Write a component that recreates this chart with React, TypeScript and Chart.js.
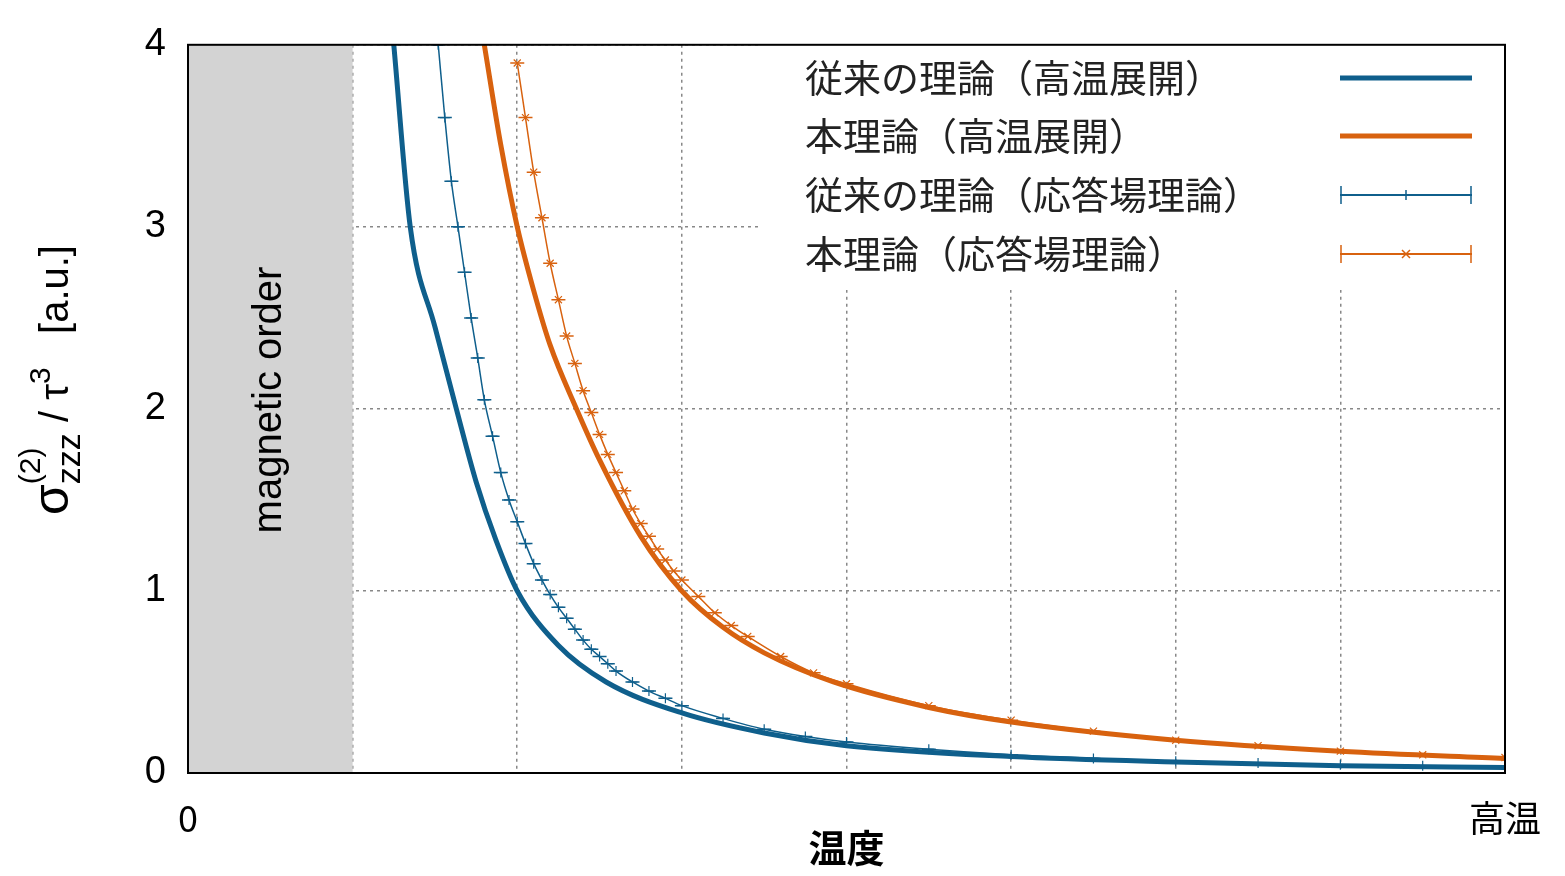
import React, { useEffect, useRef } from "react";
import { Chart, registerables } from "chart.js";
Chart.register(...registerables);

const FONT = "'Liberation Sans', 'Noto Sans CJK JP', sans-serif";
const JFONT = "'Noto Sans CJK JP', 'Liberation Sans', sans-serif";
const BLUE = "#0f5f8c";
const ORANGE = "#d8620f";

const seriesNames = ["従来の理論（高温展開）", "本理論（高温展開）", "従来の理論（応答場理論）", "本理論（応答場理論）"];
const blueSolidX = [1.25, 1.35, 1.5, 1.63, 1.75, 1.87, 2.0, 2.25, 2.54, 3, 3.5, 4, 5, 6, 7, 8];
const blueSolidY = [4.0, 3.0, 2.45, 2.0, 1.6, 1.28, 1.0, 0.7, 0.5, 0.33, 0.22, 0.15, 0.09, 0.06, 0.04, 0.03];
const orangeSolidX = [1.8, 1.9, 2.0, 2.1, 2.2, 2.36, 2.5, 2.75, 3, 3.25, 3.5, 3.92, 4.5, 5, 6, 7, 8];
const orangeSolidY = [4.0, 3.45, 3.0, 2.65, 2.35, 2.0, 1.72, 1.3, 1.0, 0.8, 0.66, 0.5, 0.36, 0.28, 0.18, 0.12, 0.08];
const blueErrX = [1.52, 1.56, 1.6, 1.64, 1.68, 1.72, 1.76, 1.8, 1.85, 1.9, 1.95, 2.0, 2.05, 2.1, 2.15, 2.2, 2.25, 2.3, 2.35, 2.4, 2.45, 2.5, 2.55, 2.6, 2.7, 2.8, 2.9, 3.0, 3.25, 3.5, 3.75, 4, 4.5, 5, 5.5, 6, 6.5, 7, 7.5, 8];
const blueErrY = [4.0, 3.6, 3.25, 3.0, 2.75, 2.5, 2.28, 2.05, 1.85, 1.65, 1.5, 1.38, 1.26, 1.15, 1.06, 0.98, 0.91, 0.85, 0.79, 0.73, 0.68, 0.64, 0.6, 0.56, 0.5, 0.45, 0.41, 0.37, 0.3, 0.24, 0.2, 0.17, 0.13, 0.1, 0.08, 0.065, 0.055, 0.045, 0.04, 0.035];
const orangeErrX = [2.0, 2.05, 2.1, 2.15, 2.2, 2.25, 2.3, 2.35, 2.4, 2.45, 2.5, 2.55, 2.6, 2.65, 2.7, 2.75, 2.8, 2.85, 2.9, 2.95, 3.0, 3.1, 3.2, 3.3, 3.4, 3.6, 3.8, 4, 4.5, 5, 5.5, 6, 6.5, 7, 7.5, 8];
const orangeErrY = [3.9, 3.6, 3.3, 3.05, 2.8, 2.6, 2.4, 2.25, 2.1, 1.98, 1.86, 1.75, 1.65, 1.55, 1.45, 1.37, 1.3, 1.23, 1.17, 1.11, 1.06, 0.97, 0.88, 0.81, 0.75, 0.64, 0.55, 0.49, 0.37, 0.29, 0.23, 0.18, 0.15, 0.12, 0.1, 0.085];

const pts = (xs: number[], ys: number[]) => xs.map((x, i) => ({ x, y: ys[i] }));

const decor = {
  id: "decor",
  beforeDatasetsDraw(chart: any) {
    const { ctx, scales: { x, y } } = chart;
    ctx.save();
    ctx.fillStyle = "#d3d3d3";
    ctx.fillRect(x.getPixelForValue(0), y.getPixelForValue(4), x.getPixelForValue(1) - x.getPixelForValue(0), y.getPixelForValue(0) - y.getPixelForValue(4));
    ctx.translate((x.getPixelForValue(0) + x.getPixelForValue(1)) / 2, 400);
    ctx.rotate(-Math.PI / 2);
    ctx.fillStyle = "#000";
    ctx.font = `40px ${FONT}`;
    ctx.textAlign = "center";
    ctx.textBaseline = "middle";
    ctx.fillText("magnetic order", 0, 0);
    ctx.restore();
  },
  afterDraw(chart: any) {
    const { ctx, chartArea: a } = chart;
    ctx.save();
    const lx = 760, ly = 45, rows = [78, 136, 195, 254];
    ctx.fillStyle = "#fff";
    ctx.fillRect(lx, ly, 740, 245);
    ctx.font = `38px ${JFONT}`;
    ctx.textBaseline = "middle";
    ctx.fillStyle = "#222";
    rows.forEach((ry, i) => ctx.fillText(seriesNames[i], 805, ry));
    const colors = [BLUE, ORANGE, BLUE, ORANGE];
    rows.forEach((ry, i) => {
      ctx.strokeStyle = colors[i];
      ctx.lineWidth = i < 2 ? 5 : 2;
      ctx.beginPath(); ctx.moveTo(1340, ry); ctx.lineTo(1472, ry); ctx.stroke();
      if (i >= 2) {
        ctx.beginPath();
        ctx.moveTo(1341, ry - 9); ctx.lineTo(1341, ry + 9);
        ctx.moveTo(1471, ry - 9); ctx.lineTo(1471, ry + 9);
        if (i === 2) { ctx.moveTo(1406, ry - 5); ctx.lineTo(1406, ry + 5); }
        else { ctx.moveTo(1402, ry - 4); ctx.lineTo(1410, ry + 4); ctx.moveTo(1410, ry - 4); ctx.lineTo(1402, ry + 4); }
        ctx.lineWidth = 1.5; ctx.stroke();
      }
    });
    ctx.strokeStyle = "#000"; ctx.lineWidth = 2;
    ctx.strokeRect(a.left, a.top, a.right - a.left, a.bottom - a.top);
    ctx.fillStyle = "#000";
    ctx.font = `bold 38px ${JFONT}`;
    ctx.textAlign = "center";
    ctx.fillText("温度", (a.left + a.right) / 2, 848);
    // y title
    ctx.translate(54, 380);
    ctx.rotate(-Math.PI / 2);
    ctx.textAlign = "left";
    ctx.textBaseline = "alphabetic";
    const meas = (t: string, s: number) => { ctx.font = `${s}px ${FONT}`; return ctx.measureText(t).width; };
    const wS = meas("σ", 50), wZ = meas("zzz", 34), wT = meas(" / τ", 40), w3 = meas("3", 30), wA = meas("   [a.u.]", 40);
    const total = wS + wZ + wT + w3 + wA;
    let cx = -total / 2;
    ctx.font = `50px ${FONT}`; ctx.fillText("σ", cx, 14); cx += wS;
    ctx.font = `34px ${FONT}`; ctx.fillText("zzz", cx, 26);
    ctx.font = `30px ${FONT}`; ctx.fillText("(2)", cx, -14);
    cx += wZ;
    ctx.font = `40px ${FONT}`; ctx.fillText(" / τ", cx, 14); cx += wT;
    ctx.font = `30px ${FONT}`; ctx.fillText("3", cx, -4); cx += w3;
    ctx.font = `40px ${FONT}`; ctx.fillText("   [a.u.]", cx, 14);
    ctx.restore();
  },
};

export default function App() {
  const ref = useRef<HTMLCanvasElement>(null);
  useEffect(() => {
    const solid = (d: any, c: string) => ({ data: d, borderColor: c, borderWidth: 5, pointRadius: 0, cubicInterpolationMode: "monotone", showLine: true });
    const err = (d: any, c: string, style: string) => [
      { data: d, borderColor: c, borderWidth: 1.5, pointRadius: 7, pointStyle: "line", pointBorderColor: c, pointBorderWidth: 1.5, cubicInterpolationMode: "monotone", showLine: true },
      { data: d, borderColor: c, pointRadius: 5, pointStyle: style, pointBorderColor: c, pointBorderWidth: 1.2, showLine: false },
    ];
    const chart = new Chart(ref.current!, {
      type: "scatter",
      data: {
        datasets: [
          ...err(pts(blueErrX, blueErrY), BLUE, "cross"),
          ...err(pts(orangeErrX, orangeErrY), ORANGE, "crossRot"),
          solid(pts(blueSolidX, blueSolidY), BLUE),
          solid(pts(orangeSolidX, orangeSolidY), ORANGE),
        ] as any,
      },
      plugins: [decor],
      options: {
        animation: false,
        responsive: false,
        layout: { padding: { top: 21, right: 42 } },
        plugins: { legend: { display: false }, tooltip: { enabled: false } },
        scales: {
          x: {
            type: "linear", min: 0, max: 8,
            afterFit: (s: any) => { s.height = 103; },
            ticks: { stepSize: 1, autoSkip: false, maxRotation: 0, color: "#000", padding: 24, font: { size: 36, family: JFONT }, callback: (v: any) => (v === 0 ? "0" : v === 8 ? "高温" : "") },
            grid: { color: "#888", lineWidth: 1.5, tickLength: 0 } as any,
            border: { dash: [3, 4], display: false } as any,
          },
          y: {
            min: 0, max: 4,
            afterFit: (s: any) => { s.width = 188; },
            ticks: { stepSize: 1, color: "#000", padding: 22, font: { size: 38, family: FONT } },
            grid: { color: "#888", lineWidth: 1.5, tickLength: 0 } as any,
            border: { dash: [3, 4], display: false } as any,
          },
        },
      },
    });
    return () => chart.destroy();
  }, []);
  return (
    <div style={{ position: "fixed", left: 0, top: 0, background: "#fff" }}>
      <canvas ref={ref} width={1565} height={876} style={{ width: 1565, height: 876 }} />
    </div>
  );
}
